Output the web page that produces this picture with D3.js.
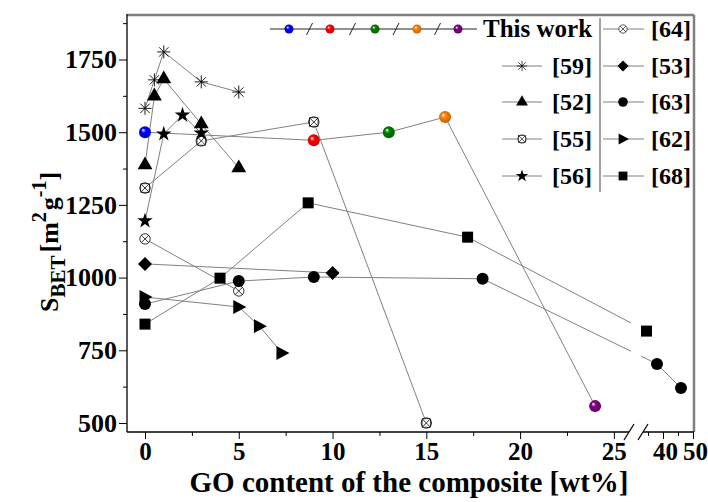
<!DOCTYPE html>
<html>
<head>
<meta charset="utf-8">
<script src="https://cdn.jsdelivr.net/npm/d3@7"></script>
<style>
  body { margin: 0; background: #fff; }
  svg text { font-family: "Liberation Serif", "DejaVu Serif", serif; font-weight: bold; fill: #000; }
</style>
</head>
<body>
<div id="vis"></div>
<script>
// ---- data ----
const thisWorkX = [0, 9, 13, 16, 24];
const thisWorkY = [1500, 1472, 1500, 1552, 558];
const thisWorkColors = ["#0000ff", "#ff0000", "#008000", "#ff8000", "#800080"];

const ref59X = [0, 0.5, 1, 3, 5];
const ref59Y = [1582, 1680, 1776, 1673, 1638];
const ref52X = [0, 0.5, 1, 3, 5];
const ref52Y = [1387, 1624, 1683, 1528, 1377];
const ref55X = [0, 3, 9, 15];
const ref55Y = [1308, 1470, 1535, 500];
const ref56X = [0, 1, 2, 3];
const ref56Y = [1195, 1494, 1559, 1497];
const ref64X = [0, 5];
const ref64Y = [1133, 954];
const ref53X = [0, 10];
const ref53Y = [1047, 1016];
const ref63X = [0, 5, 9, 18, 38, 46];
const ref63Y = [909, 988, 1002, 996, 703, 620];
const ref62X = [0, 5, 6.1, 7.3];
const ref62Y = [933, 899, 833, 741];
const ref68X = [0, 4, 8.7, 17.2, 34.5];
const ref68Y = [840, 998, 1257, 1139, 816];

const xTicksLeft = [0, 5, 10, 15, 20, 25];
const xTicksRight = [40, 50];
const yTicks = [500, 750, 1000, 1250, 1500, 1750];

const width = 708, height = 502;
const svg = d3.select("#vis").append("svg")
    .attr("width", width)
    .attr("height", height);

const plotTop = 15, plotBottom = 432, plotLeft = 127, plotRight = 694;

// broken x axis: two linear pieces
const xL = d3.scaleLinear().domain([-1, 25.7]).range([126.25, 627]);
const xR = d3.scaleLinear().domain([34, 50]).range([645, 693]);
const x = v => v <= 30 ? xL(v) : xR(v);
const y = d3.scaleLinear().domain([469, 1903]).range([plotBottom, plotTop]);

// sphere gradients
const defs = svg.append("defs");
thisWorkColors.forEach((c, i) => {
    const g = defs.append("radialGradient")
        .attr("id", "sph" + i)
        .attr("cx", "50%").attr("cy", "50%").attr("r", "55%")
        .attr("fx", "32%").attr("fy", "30%");
    g.append("stop").attr("offset", "0%").attr("stop-color", "#fff");
    g.append("stop").attr("offset", "35%").attr("stop-color", c);
    g.append("stop").attr("offset", "100%").attr("stop-color", d3.color(c).darker(0.8));
});

// clip that cuts the connecting lines at the axis break
const gapL = xL.range()[1] + 4, gapR = xR.range()[0] - 4;
const clip = defs.append("clipPath").attr("id", "breakclip");
clip.append("rect").attr("x", 0).attr("y", 0).attr("width", gapL).attr("height", height);
clip.append("rect").attr("x", gapR).attr("y", 0).attr("width", width - gapR).attr("height", height);

// ---- axes ----
const yAxis = svg.append("g")
    .attr("transform", `translate(${plotLeft},0)`)
    .call(d3.axisLeft(y).tickValues(yTicks).tickSize(8).tickPadding(2).tickFormat(d3.format("d")));
yAxis.select(".domain").remove();
yAxis.selectAll("text").style("font-size", "26px");
svg.append("g")
    .attr("transform", `translate(${plotLeft},0)`)
    .call(d3.axisLeft(y).tickValues(d3.range(625, 1900, 250)).tickSize(4).tickFormat(""))
    .select(".domain").remove();

const xAxisL = svg.append("g")
    .attr("transform", `translate(0,${plotBottom})`)
    .call(d3.axisBottom(xL).tickValues(xTicksLeft).tickSize(7).tickPadding(3));
xAxisL.select(".domain").remove();
xAxisL.selectAll("text").style("font-size", "25px");
svg.append("g")
    .attr("transform", `translate(0,${plotBottom})`)
    .call(d3.axisBottom(xL).tickValues(d3.range(2.5, 25, 5)).tickSize(4).tickFormat(""))
    .select(".domain").remove();
const xAxisR = svg.append("g")
    .attr("transform", `translate(0,${plotBottom})`)
    .call(d3.axisBottom(xR).tickValues(xTicksRight).tickSize(7).tickPadding(3));
xAxisR.select(".domain").remove();
xAxisR.selectAll("text").style("font-size", "25px").attr("dx", "2");
svg.append("g")
    .attr("transform", `translate(0,${plotBottom})`)
    .call(d3.axisBottom(xR).tickValues([35, 45]).tickSize(4).tickFormat(""))
    .select(".domain").remove();

// frame
svg.append("line").attr("x1", plotLeft).attr("x2", plotRight).attr("y1", plotTop).attr("y2", plotTop)
    .attr("stroke", "#808080").attr("stroke-width", 2.5);
svg.append("line").attr("x1", plotRight).attr("x2", plotRight).attr("y1", plotTop).attr("y2", plotBottom)
    .attr("stroke", "#808080").attr("stroke-width", 2.5);
svg.append("line").attr("x1", plotLeft).attr("x2", plotLeft).attr("y1", plotTop - 1).attr("y2", plotBottom)
    .attr("stroke", "#000").attr("stroke-width", 1.3);
svg.append("line").attr("x1", plotLeft).attr("x2", gapL - 2).attr("y1", plotBottom).attr("y2", plotBottom)
    .attr("stroke", "#000").attr("stroke-width", 1.3);
svg.append("line").attr("x1", gapR + 2).attr("x2", plotRight).attr("y1", plotBottom).attr("y2", plotBottom)
    .attr("stroke", "#000").attr("stroke-width", 1.3);
[gapL - 2, gapR + 2].forEach(bx => {
    svg.append("line")
        .attr("x1", bx - 5).attr("y1", plotBottom + 8)
        .attr("x2", bx + 5).attr("y2", plotBottom - 8)
        .attr("stroke", "#000").attr("stroke-width", 1.2);
});

// axis titles
svg.append("text")
    .attr("x", 409).attr("y", 492)
    .attr("text-anchor", "middle")
    .style("font-size", "29px")
    .text("GO content of the composite [wt%]");

const yTitle = svg.append("text")
    .attr("transform", "translate(58,312) rotate(-90)")
    .style("font-size", "26px");
yTitle.append("tspan").text("S");
yTitle.append("tspan").attr("dy", 7).style("font-size", "21px").text("BET");
yTitle.append("tspan").attr("dy", -7).attr("dx", 3).text("[m");
yTitle.append("tspan").attr("dy", -12).style("font-size", "20px").text("2");
yTitle.append("tspan").attr("dy", 12).attr("dx", 2).text("g");
yTitle.append("tspan").attr("dy", -12).style("font-size", "20px").text("-1");
yTitle.append("tspan").attr("dy", 12).text("]");

// ---- marker shapes ----
function drawMarker(g, type) {
    if (type === "asterisk") {
        const r = 6.5, d = r * 0.72;
        g.append("path")
            .attr("d", `M${-r},0H${r}M0,${-r}V${r}M${-d},${-d}L${d},${d}M${-d},${d}L${d},${-d}`)
            .attr("stroke", "#000").attr("stroke-width", 0.9).attr("fill", "none");
    } else if (type === "triangle") {
        g.append("path").attr("d", d3.symbol(d3.symbolTriangle, 95)()).attr("fill", "#000");
    } else if (type === "xcircle" || type === "xbox") {
        const r = 5.2, d = r * 0.72;
        g.append("circle").attr("r", r).attr("fill", "#fff").attr("stroke", "#000").attr("stroke-width", 0.8);
        g.append("path").attr("d", `M${-d},${-d}L${d},${d}M${-d},${d}L${d},${-d}`)
            .attr("stroke", "#000").attr("stroke-width", 0.8);
        if (type === "xbox") {
            g.append("rect").attr("x", -d - 0.5).attr("y", -d - 0.5).attr("width", 2 * d + 1).attr("height", 2 * d + 1)
                .attr("fill", "none").attr("stroke", "#000").attr("stroke-width", 0.7);
        }
    } else if (type === "star") {
        g.append("path").attr("d", d3.symbol(d3.symbolStar, 75)()).attr("fill", "#000");
    } else if (type === "diamond") {
        g.append("path").attr("d", "M0,-7L7,0L0,7L-7,0Z").attr("fill", "#000");
    } else if (type === "circle") {
        g.append("circle").attr("r", 6).attr("fill", "#000");
    } else if (type === "right") {
        g.append("path").attr("d", "M-5.5,-7L7.5,0L-5.5,7Z").attr("fill", "#000");
    } else if (type === "square") {
        g.append("rect").attr("x", -5.5).attr("y", -5.5).attr("width", 11).attr("height", 11).attr("fill", "#000");
    }
}

const series = [
    { label: "[59]", xs: ref59X, ys: ref59Y, marker: "asterisk" },
    { label: "[52]", xs: ref52X, ys: ref52Y, marker: "triangle" },
    { label: "[55]", xs: ref55X, ys: ref55Y, marker: "xbox" },
    { label: "[56]", xs: ref56X, ys: ref56Y, marker: "star" },
    { label: "[64]", xs: ref64X, ys: ref64Y, marker: "xcircle" },
    { label: "[53]", xs: ref53X, ys: ref53Y, marker: "diamond" },
    { label: "[63]", xs: ref63X, ys: ref63Y, marker: "circle" },
    { label: "[62]", xs: ref62X, ys: ref62Y, marker: "right" },
    { label: "[68]", xs: ref68X, ys: ref68Y, marker: "square" }
];

const line = d3.line().x(d => x(d[0])).y(d => y(d[1]));
const lineG = svg.append("g").attr("clip-path", "url(#breakclip)");
const markG = svg.append("g");

lineG.append("path")
    .datum(d3.zip(thisWorkX, thisWorkY))
    .attr("d", line)
    .attr("fill", "none").attr("stroke", "#808080").attr("stroke-width", 1);

series.forEach(s => {
    const pts = d3.zip(s.xs, s.ys);
    lineG.append("path")
        .datum(pts)
        .attr("d", line)
        .attr("fill", "none").attr("stroke", "#808080").attr("stroke-width", 1);
    pts.forEach(p => {
        drawMarker(markG.append("g").attr("transform", `translate(${x(p[0])},${y(p[1])})`), s.marker);
    });
});

thisWorkX.forEach((v, i) => {
    markG.append("circle")
        .attr("cx", x(v)).attr("cy", y(thisWorkY[i]))
        .attr("r", 6)
        .attr("fill", `url(#sph${i})`);
});

// ---- legend ----
const legend = svg.append("g");
const rowY = [29, 66, 102, 139, 176];

// this work row
const twX = [289, 330, 375, 417, 458];
legend.append("line").attr("x1", 270).attr("x2", 477).attr("y1", rowY[0]).attr("y2", rowY[0])
    .attr("stroke", "#222").attr("stroke-width", 1);
twX.slice(0, -1).forEach((sx, i) => {
    const mx = (sx + twX[i + 1]) / 2;
    legend.append("line").attr("x1", mx - 3).attr("x2", mx + 3).attr("y1", rowY[0] + 6).attr("y2", rowY[0] - 6)
        .attr("stroke", "#222").attr("stroke-width", 1);
});
twX.forEach((sx, i) => {
    legend.append("circle").attr("cx", sx).attr("cy", rowY[0]).attr("r", 4.5).attr("fill", `url(#sph${i})`);
});
legend.append("text").attr("x", 483).attr("y", rowY[0] + 8).style("font-size", "25px").text("This work");

const leftCol = series.slice(0, 4), rightCol = series.slice(4);
leftCol.forEach((s, i) => {
    const ly = rowY[i + 1];
    legend.append("line").attr("x1", 502).attr("x2", 542).attr("y1", ly).attr("y2", ly)
        .attr("stroke", "#808080").attr("stroke-width", 1);
    drawMarker(legend.append("g").attr("transform", `translate(522,${ly}) scale(0.8)`), s.marker);
    legend.append("text").attr("x", 552).attr("y", ly + 8).style("font-size", "24px").text(s.label);
});
rightCol.forEach((s, i) => {
    const ly = rowY[i];
    legend.append("line").attr("x1", 603).attr("x2", 644).attr("y1", ly).attr("y2", ly)
        .attr("stroke", "#808080").attr("stroke-width", 1);
    drawMarker(legend.append("g").attr("transform", `translate(623,${ly}) scale(0.8)`), s.marker);
    legend.append("text").attr("x", 651).attr("y", ly + 8).style("font-size", "24px").text(s.label);
});
legend.append("line").attr("x1", 600).attr("x2", 600).attr("y1", 18).attr("y2", 192)
    .attr("stroke", "#444").attr("stroke-width", 1);
</script>
</body>
</html>
